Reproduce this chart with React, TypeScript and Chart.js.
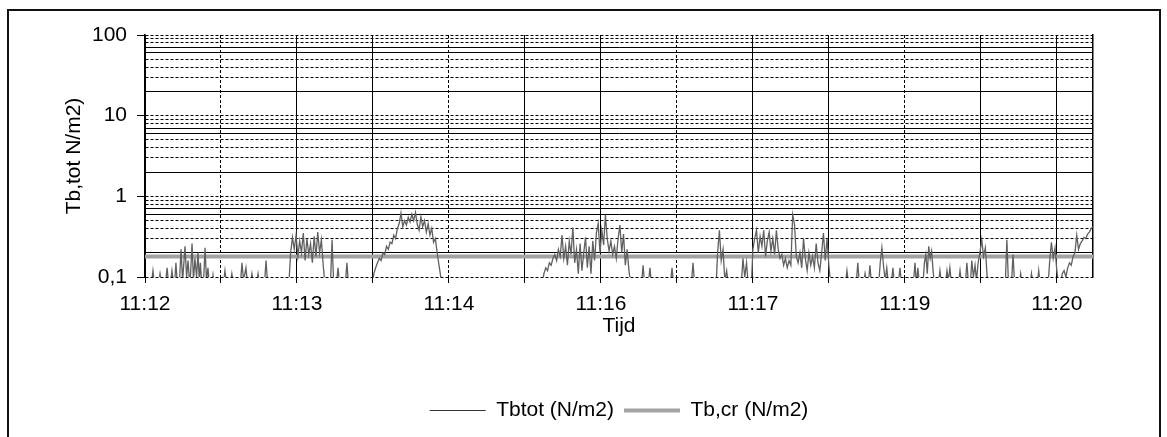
import { useEffect, useRef } from 'react';
import { Chart, registerables } from 'chart.js';

Chart.register(...registerables);

const FONT = '"Liberation Sans", Arial, Helvetica, sans-serif';

// Tbtot (N/m2): [seconds after 11:12:05, value]
const tbtotPoints: [number, number][] = [
  [0, 0.08], [3.5, 0.08], [4.4, 0.12], [5.3, 0.08], [7.4, 0.08], [8.3, 0.11], [9.2, 0.08],
  [11.3, 0.08], [12.2, 0.13], [13.1, 0.08], [14.0, 0.08], [14.9, 0.12], [15.8, 0.08],
  [16.3, 0.08], [17.1, 0.15], [17.9, 0.08], [19.0, 0.08], [19.9, 0.22], [20.8, 0.09],
  [21.2, 0.12], [22.1, 0.24], [23.0, 0.1], [23.8, 0.16], [24.7, 0.08], [25.2, 0.11],
  [26.0, 0.26], [26.8, 0.09], [27.6, 0.17], [28.5, 0.1], [29.3, 0.2], [30.0, 0.09],
  [30.6, 0.15], [31.4, 0.08], [32.3, 0.08], [33.2, 0.23], [34.0, 0.09], [34.8, 0.13],
  [35.6, 0.08], [37.0, 0.08], [37.6, 0.105], [38.2, 0.08],
  [43.3, 0.08], [44.2, 0.12], [45.1, 0.08], [47.1, 0.08], [48.0, 0.11], [48.9, 0.08],
  [52.7, 0.08], [53.6, 0.15], [54.5, 0.09], [55.8, 0.13], [56.7, 0.08], [58.2, 0.08],
  [59.1, 0.11], [60.0, 0.08], [61.6, 0.08], [62.5, 0.11], [63.4, 0.08], [66.0, 0.08],
  [66.9, 0.16], [67.8, 0.08], [79.5, 0.08],
  [80.5, 0.2], [81.5, 0.31], [82.5, 0.22], [83.5, 0.33], [84.5, 0.18], [85.5, 0.28],
  [86.5, 0.2], [87.5, 0.35], [88.5, 0.16], [89.5, 0.3], [90.5, 0.19], [91.5, 0.26],
  [92.5, 0.15], [93.5, 0.32], [94.5, 0.18], [95.5, 0.36], [96.5, 0.2], [97.5, 0.29],
  [98.5, 0.14], [99.5, 0.08], [102.5, 0.08], [103.4, 0.29], [104.3, 0.08], [105.8, 0.08],
  [106.7, 0.13], [107.6, 0.08], [110.7, 0.08], [111.6, 0.15], [112.5, 0.08],
  [125.5, 0.08], [126.5, 0.11], [127.5, 0.13], [128.5, 0.15], [129.5, 0.17], [130.5, 0.16],
  [131.5, 0.2], [132.5, 0.19], [133.5, 0.24], [134.5, 0.22], [135.5, 0.27], [136.5, 0.26],
  [137.5, 0.33], [138.5, 0.3], [139.5, 0.4], [140.5, 0.46], [141.5, 0.62], [142.5, 0.42],
  [143.5, 0.5], [144.5, 0.44], [145.5, 0.55], [146.5, 0.48], [147.5, 0.6], [148.5, 0.5],
  [149.5, 0.63], [150.5, 0.45], [151.5, 0.38], [152.5, 0.56], [153.5, 0.42], [154.5, 0.5],
  [155.5, 0.36], [156.5, 0.46], [157.5, 0.33], [158.5, 0.4], [159.5, 0.27], [160.5, 0.3],
  [161.5, 0.2], [162.5, 0.14], [163.5, 0.1], [164.5, 0.08], [219.5, 0.08],
  [220.5, 0.11], [221.5, 0.13], [222.5, 0.12], [223.5, 0.15], [224.5, 0.14], [225.5, 0.17],
  [226.5, 0.19], [227.5, 0.16], [228.5, 0.22], [229.5, 0.18], [230.5, 0.33], [231.5, 0.17],
  [232.5, 0.24], [233.5, 0.14], [234.5, 0.28], [235.5, 0.19], [236.5, 0.41], [237.5, 0.15],
  [238.5, 0.22], [239.5, 0.11], [240.5, 0.26], [241.5, 0.12], [242.5, 0.2], [243.5, 0.31],
  [244.5, 0.13], [245.5, 0.24], [246.5, 0.11], [247.5, 0.28], [248.5, 0.16], [249.5, 0.35],
  [250.5, 0.46], [251.5, 0.2], [252.5, 0.38], [253.5, 0.25], [254.5, 0.59], [255.5, 0.3],
  [256.5, 0.21], [257.5, 0.28], [258.5, 0.19], [259.5, 0.24], [260.5, 0.17], [261.5, 0.3],
  [262.5, 0.44], [263.5, 0.2], [264.5, 0.34], [265.5, 0.14], [266.5, 0.22], [267.5, 0.12],
  [268.5, 0.08],
  [274.4, 0.08], [275.3, 0.14], [276.2, 0.08], [278.2, 0.08], [279.1, 0.13], [280.0, 0.08],
  [290.4, 0.08], [291.3, 0.13], [292.2, 0.08], [302.0, 0.08], [302.9, 0.15], [303.8, 0.08],
  [315.7, 0.08], [316.5, 0.2], [317.5, 0.38], [318.5, 0.16], [319.5, 0.22], [320.5, 0.09],
  [321.5, 0.12], [322.4, 0.08], [329.6, 0.08], [330.5, 0.17], [331.5, 0.1], [332.5, 0.15],
  [333.4, 0.08],
  [335.2, 0.08], [336, 0.22], [337, 0.3], [338, 0.38], [339, 0.2], [340, 0.32], [341, 0.24],
  [342, 0.38], [343, 0.18], [344, 0.28], [345, 0.36], [346, 0.21], [347, 0.3], [348, 0.19],
  [349, 0.38], [350, 0.22], [351, 0.17], [352, 0.19], [353, 0.14], [354, 0.17], [355, 0.13],
  [356, 0.16], [357, 0.14], [358, 0.59], [359, 0.45], [360, 0.18], [361, 0.15], [362, 0.2],
  [363, 0.13], [364, 0.3], [365, 0.17], [366, 0.12], [367, 0.2], [368, 0.14], [369, 0.18],
  [370, 0.13], [371, 0.26], [372, 0.15], [373, 0.12], [374, 0.2], [375, 0.35], [376, 0.16],
  [377, 0.3], [378, 0.14], [379, 0.08],
  [387.1, 0.08], [388, 0.12], [388.9, 0.08], [393.1, 0.08], [394, 0.15], [394.9, 0.08],
  [397.1, 0.08], [398, 0.11], [398.9, 0.08], [399.8, 0.08], [400.7, 0.14], [401.6, 0.08],
  [405.5, 0.08], [406.4, 0.15], [407.3, 0.23], [408.2, 0.14], [409.1, 0.09], [410, 0.13],
  [410.9, 0.08], [412.5, 0.08], [413.4, 0.13], [414.3, 0.08], [416.4, 0.08], [417.3, 0.13],
  [418.2, 0.08], [424.7, 0.08], [425.6, 0.15], [426.4, 0.08], [427.2, 0.13], [428.1, 0.08],
  [430, 0.08], [430.8, 0.15], [431.6, 0.19], [432.4, 0.11], [433.2, 0.24], [434, 0.17],
  [434.8, 0.21], [435.6, 0.12], [436.4, 0.08], [438.5, 0.08], [439.4, 0.12], [440.3, 0.08],
  [442.4, 0.08], [443.3, 0.12], [444.1, 0.09], [444.9, 0.13], [445.8, 0.08], [449.6, 0.08],
  [450.5, 0.12], [451.4, 0.08], [453.4, 0.08], [454.3, 0.15], [455.2, 0.08], [456.2, 0.08],
  [457, 0.16], [457.9, 0.1], [458.8, 0.14], [459.6, 0.09], [460.5, 0.15], [461.5, 0.2],
  [462.5, 0.29], [463.5, 0.18], [464.5, 0.23], [465.5, 0.1], [466.4, 0.08], [475.5, 0.08],
  [476.4, 0.29], [477.3, 0.08], [478.9, 0.08], [479.8, 0.19], [480.7, 0.08], [483.2, 0.08],
  [484, 0.11], [484.8, 0.08], [489.2, 0.08], [490, 0.11], [490.8, 0.08], [493.2, 0.08],
  [494, 0.12], [494.8, 0.08], [499.2, 0.08], [500, 0.15], [501, 0.27], [502, 0.17],
  [503, 0.23], [504, 0.12], [505, 0.08],
  [506, 0.08], [507, 0.11], [508, 0.12], [509, 0.1], [510, 0.13], [511, 0.15], [512, 0.14],
  [513, 0.18], [514, 0.2], [515, 0.33], [516, 0.22], [517, 0.26], [518, 0.28], [519, 0.31],
  [520, 0.3], [521, 0.34], [522, 0.36], [523, 0.4], [524, 0.42],
];

// Tb,cr (N/m2): constant critical value
const tbcrTimes = [0, 524];
const tbcrValues = [0.18, 0.18];

const seriesLabels = ['Tbtot (N/m2)', 'Tb,cr (N/m2)'];

// x axis (seconds after 11:12:05)
const xMin = 0;
const xMax = 524;
const xTickSeconds = [0, 42, 84, 126, 168, 210, 252, 294, 336, 378, 420, 462, 504];
const xTickLabels = ['11:12', '', '11:13', '', '11:14', '', '11:16', '', '11:17', '', '11:19', '', '11:20'];
const xDashedTicks = [1, 4, 7, 10];

// y axis (log)
const yMin = 0.1;
const yMax = 100;
const yMajorValues = [0.1, 1, 10, 100];
const yMajorLabels = ['0,1', '1', '10', '100'];
const yDecades = [0.1, 1, 10];
const yMultipliers = [1, 2, 3, 4, 5, 6, 7, 8, 9];
const ySolidMultipliers = [2, 6, 7];

const yGridValues: number[] = [];
yDecades.forEach((d) => yMultipliers.forEach((m) => yGridValues.push(Number((m * d).toPrecision(3)))));
yGridValues.push(yMax);

const isMajorY = (v: number) => yMajorValues.some((m) => Math.abs(m - v) < 1e-9);
const multOf = (v: number) => Math.round(v / Math.pow(10, Math.floor(Math.log10(v) + 1e-9)));

export default function App() {
  const ref = useRef<HTMLCanvasElement>(null);

  useEffect(() => {
    const canvas = ref.current;
    if (!canvas) return;
    const chart = new Chart(canvas, {
      type: 'line',
      data: {
        datasets: [
          {
            label: seriesLabels[0],
            data: tbtotPoints.map(([x, y]) => ({ x, y })),
            borderColor: '#606060',
            backgroundColor: '#606060',
            borderWidth: 1.3,
            pointRadius: 0,
            tension: 0,
          },
          {
            label: seriesLabels[1],
            data: tbcrTimes.map((x, i) => ({ x, y: tbcrValues[i] })),
            borderColor: '#a3a3a3',
            backgroundColor: '#a3a3a3',
            borderWidth: 4,
            pointRadius: 0,
            tension: 0,
          },
        ],
      },
      options: {
        responsive: false,
        devicePixelRatio: 1,
        animation: false,
        events: [],
        layout: { padding: { top: 35, left: 0, right: 74, bottom: 6 } },
        scales: {
          x: {
            type: 'linear',
            min: xMin,
            max: xMax,
            afterBuildTicks: (scale: any) => {
              scale.ticks = xTickSeconds.map((v) => ({ value: v }));
            },
            afterFit: (scale: any) => {
              scale.height = 113;
            },
            ticks: {
              autoSkip: false,
              maxRotation: 0,
              minRotation: 0,
              padding: 9,
              color: '#000',
              font: { family: FONT, size: 21 },
              callback: (_v: any, i: number) => xTickLabels[i] ?? '',
            },
            grid: {
              color: '#000',
              lineWidth: 1,
              drawTicks: true,
              tickLength: 6,
              tickColor: '#000',
              tickBorderDash: [],
            },
            border: {
              display: false,
              dash: (ctx: any) => (xDashedTicks.includes(ctx.index) ? [3, 2] : []),
            },
            title: {
              display: true,
              text: 'Tijd',
              color: '#000',
              font: { family: FONT, size: 21 },
              padding: { top: 0, bottom: 51 },
            },
          },
          y: {
            type: 'logarithmic',
            position: 'left',
            min: yMin,
            max: yMax,
            afterBuildTicks: (scale: any) => {
              scale.ticks = yGridValues.map((v) => ({ value: v, major: isMajorY(v) }));
            },
            afterFit: (scale: any) => {
              scale.width = 145;
            },
            ticks: {
              autoSkip: false,
              padding: 10,
              color: '#000',
              font: { family: FONT, size: 21 },
              callback: (v: any) => {
                const idx = yMajorValues.findIndex((m) => Math.abs(m - Number(v)) < 1e-9);
                return idx >= 0 ? yMajorLabels[idx] : '';
              },
            },
            grid: {
              color: '#000',
              lineWidth: 1,
              drawTicks: true,
              tickLength: 8,
              tickColor: (ctx: any) => (ctx.tick && isMajorY(ctx.tick.value) ? '#000' : 'rgba(0,0,0,0)'),
              tickBorderDash: [],
            },
            border: {
              display: true,
              color: '#000',
              width: 1.5,
              dash: (ctx: any) => {
                const v = ctx.tick ? ctx.tick.value : 1;
                return ySolidMultipliers.includes(multOf(v)) && !isMajorY(v) ? [] : [3, 2];
              },
            },
            title: {
              display: true,
              text: 'Tb,tot N/m2)',
              color: '#000',
              font: { family: FONT, size: 21 },
              padding: { top: 62, bottom: 0 },
            },
          },
          y2: {
            type: 'linear',
            position: 'right',
            min: 0,
            max: 1,
            afterFit: (scale: any) => {
              scale.width = 0;
            },
            ticks: { display: false },
            grid: { display: true, drawOnChartArea: false, drawTicks: false },
            border: { display: true, color: '#000', width: 1.5 },
          },
        },
        plugins: {
          tooltip: { enabled: false },
          legend: {
            display: true,
            position: 'bottom',
            fullSize: false,
            labels: {
              usePointStyle: true,
              pointStyleWidth: 56,
              boxHeight: 21,
              padding: 10,
              color: '#000',
              font: { family: FONT, size: 21 },
              generateLabels: (c: any) =>
                c.data.datasets.map((ds: any, i: number) => ({
                  text: ds.label,
                  fillStyle: ds.borderColor,
                  strokeStyle: i === 0 ? '#333' : ds.borderColor,
                  lineWidth: i === 0 ? 1 : 4,
                  pointStyle: 'line',
                  hidden: false,
                  datasetIndex: i,
                  fontColor: '#000',
                })),
            },
          },
        },
      } as any,
    });
    return () => chart.destroy();
  }, []);

  return (
    <div
      style={{
        position: 'fixed',
        left: 0,
        top: 0,
        width: 1167,
        height: 437,
        overflow: 'hidden',
        background: '#fff',
      }}
    >
      <canvas
        ref={ref}
        width={1167}
        height={437}
        style={{ position: 'absolute', left: 0, top: 0, width: 1167, height: 437, display: 'block' }}
      />
      <div
        style={{
          position: 'absolute',
          left: 7,
          top: 9,
          width: 1154,
          height: 460,
          border: '2px solid #111',
          boxSizing: 'border-box',
          pointerEvents: 'none',
        }}
      />
    </div>
  );
}
